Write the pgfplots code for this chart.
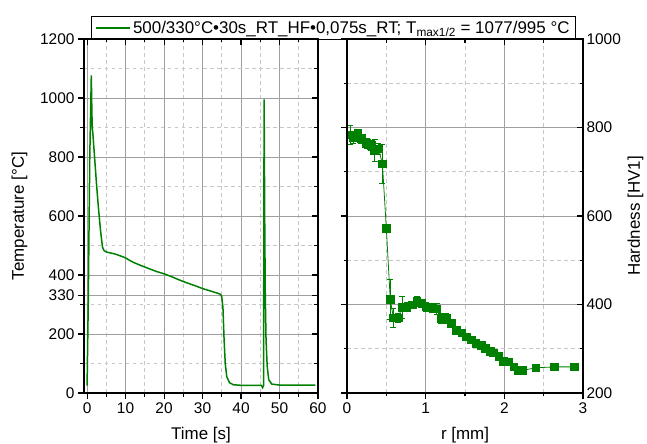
\documentclass[border=0pt]{standalone}
\usepackage{fontspec}
\setmainfont{Liberation Sans}
\usepackage{pgfplots}
\pgfplotsset{compat=1.18}
\definecolor{ogreen}{RGB}{0,128,0}
\pgfplotsset{
  base/.style={
    scale only axis,
    axis line style={line width=1.3bp, black},
    major tick length=6bp, minor tick length=3.5bp,
    every tick/.style={black, line width=1.1bp},
    tick label style={font=\fontsize{15.5}{17}\selectfont},
    label style={font=\fontsize{17}{19}\selectfont},
    /pgf/number format/assume math mode=true,
    /pgf/number format/1000 sep={},
  },
  gridst/.style={
    grid=both,
    major grid style={gray!75, line width=0.9bp},
    minor grid style={gray!45, line width=0.8bp, dash pattern=on 3.5bp off 3.5bp},
  },
}
\begin{document}
\begin{tikzpicture}
\path[use as bounding box] (-84bp,-51bp) rectangle (563bp,393bp);
% ---------------- left panel ----------------
\begin{axis}[base, gridst,
  at={(0,0)}, anchor=south west, width=234bp, height=354bp,
  xmin=-0.8, xmax=60, ymin=0, ymax=1200,
  xtick={0,10,...,60}, minor xtick={5,15,...,55},
  ytick={0,200,330,400,600,800,1000,1200},
  minor ytick={100,300,500,700,900,1100},
  tick align=outside, xtick pos=left, ytick pos=left,
  xlabel={Time [s]}, ylabel={Temperature [°C]},
  xlabel style={yshift=-7bp}, ylabel style={yshift=6bp},
  legend style={at={(axis description cs:1.066,0.997)}, anchor=south,
    font=\fontsize{17}{19}\selectfont, draw=black, line width=1.1bp,
    inner xsep=4bp, inner ysep=2.5bp},
  legend image code/.code={\draw[#1, line width=1.7bp] (0bp,0bp) -- (34bp,0bp);},
]
\addplot[ogreen, line width=1.5bp] coordinates {
(0,25) (0.3,300) (0.7,800) (1.1,1077) (1.25,950) (1.35,900) (1.5,880)
(2.0,790) (2.5,700) (3.0,620) (3.5,550) (4.0,495) (4.4,483) (5,478)
(6,475) (7,472) (8,468) (9,463) (10,458) (11,450) (12,443) (14,432)
(16,422) (18,412) (20,404) (22,394) (24,383) (26,373) (28,364) (30,354)
(32,346) (34,338) (34.7,334) (35.0,325) (35.3,290) (35.6,180) (35.9,100)
(36.3,55) (37,35) (38,28) (40,26) (45.3,26) (45.6,18) (45.85,25)
(46.0,995) (46.15,600) (46.3,330) (46.5,180) (46.8,90) (47.2,45)
(48,30) (50,27) (59.3,27)
};
\addlegendentry{500/330°C•30s\_RT\_HF•0,075s\_RT; T\textsubscript{max1/2} = 1077/995 °C}
\end{axis}
\begin{axis}[base,
  at={(0,0)}, anchor=south west, width=234bp, height=354bp,
  xmin=-0.8, xmax=60, ymin=0, ymax=1200,
  xtick={0,10,...,60}, minor xtick={5,15,...,55},
  ytick={0,200,330,400,600,800,1000,1200},
  minor ytick={100,300,500,700,900,1100},
  tick align=inside, xtick pos=right, ytick pos=right,
  xticklabels={}, yticklabels={},
]
\end{axis}
% ---------------- right panel ----------------
\begin{axis}[base, gridst,
  at={(263bp,0)}, anchor=south west, width=236bp, height=354bp,
  xmin=0, xmax=3, ymin=200, ymax=1000,
  xtick={0,1,2,3}, minor xtick={0.5,1.5,2.5},
  ytick={200,400,600,800,1000}, minor ytick={300,500,700,900},
  tick align=outside, xtick pos=left, ytick pos=left,
  yticklabels={},
  xlabel={r [mm]}, xlabel style={yshift=-7bp},
]
\addplot[ogreen, line width=0.8bp, mark=square*, mark size=3.8bp,
  mark options={solid, fill=ogreen, draw=ogreen},
  error bars/.cd, y dir=both, y explicit,
  error bar style={line width=0.7bp, ogreen},
  error mark options={rotate=90, mark size=3bp, line width=0.7bp, ogreen}]
coordinates {
(0.04,783) +- (0,22)
(0.08,777) +- (0,12)
(0.14,786) +- (0,10)
(0.18,775) +- (0,10)
(0.25,764) +- (0,12)
(0.31,760) +- (0,12)
(0.35,748) +- (0,25)
(0.40,752) +- (0,12)
(0.45,718) +- (0,45)
(0.50,572) +- (0,10)
(0.55,411) +- (0,45)
(0.59,370) +- (0,22)
(0.65,370) +- (0,10)
(0.70,394) +- (0,25)
(0.76,394) +- (0,10)
(0.83,399) +- (0,8)
(0.89,407) +- (0,12)
(0.95,403) +- (0,8)
(1.01,395) +- (0,10)
(1.08,393) +- (0,10)
(1.14,390) +- (0,12)
(1.20,369) +- (0,12)
(1.26,369) +- (0,12)
(1.33,357) +- (0,8)
(1.39,342) +- (0,6)
(1.46,336) +- (0,5)
(1.52,327) +- (0,5)
(1.58,320) +- (0,5)
(1.64,312) +- (0,5)
(1.71,308) +- (0,5)
(1.76,301) +- (0,5)
(1.82,294) +- (0,5)
(1.86,291) +- (0,5)
(1.93,283) +- (0,5)
(1.99,272) +- (0,5)
(2.06,270) +- (0,5)
(2.12,259) +- (0,5)
(2.18,251) +- (0,4)
(2.23,251) +- (0,4)
(2.40,257) +- (0,3)
(2.64,259) +- (0,3)
(2.89,259) +- (0,3)
};
\end{axis}
\begin{axis}[base,
  at={(263bp,0)}, anchor=south west, width=236bp, height=354bp,
  xmin=0, xmax=3, ymin=200, ymax=1000,
  xtick={0,1,2,3}, minor xtick={0.5,1.5,2.5},
  ytick={200,400,600,800,1000}, minor ytick={300,500,700,900},
  tick align=inside, xtick pos=right, ytick pos=right,
  yticklabel pos=right, xticklabels={},
  ylabel={Hardness [HV1]},
]
\end{axis}
\end{tikzpicture}
\end{document}
